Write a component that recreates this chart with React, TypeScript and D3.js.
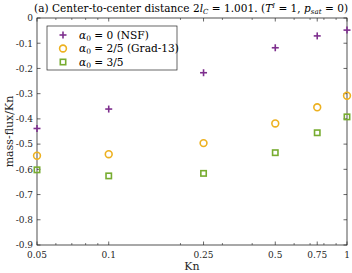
import * as d3 from "d3";

const knValues = [0.05, 0.1, 0.25, 0.5, 0.75, 1];
const nsf = [-0.438, -0.361, -0.217, -0.118, -0.071, -0.048];
const grad13 = [-0.546, -0.54, -0.496, -0.418, -0.354, -0.308];
const alpha35 = [-0.602, -0.626, -0.616, -0.534, -0.455, -0.392];
const xTickLabels = [0.05, 0.1, 0.25, 0.5, 0.75, 1];
const xMinorTicks = [0.06, 0.07, 0.08, 0.09, 0.2, 0.3, 0.4, 0.6, 0.7, 0.8, 0.9];
const yTicks = [0, -0.1, -0.2, -0.3, -0.4, -0.5, -0.6, -0.7, -0.8, -0.9];

const W = 352;
const H = 273;
const m = { left: 37, right: 5, top: 18, bottom: 28 };
const font = "'DejaVu Serif', serif";
const axisColor = "#262626";

const PURPLE = "#7E2F8E";
const ORANGE = "#EDB120";
const GREEN = "#77AC30";

function Plus({ x, y }: { x: number; y: number }) {
  const s = 3.5;
  return (
    <g stroke={PURPLE} strokeWidth={1.6}>
      <line x1={x - s} x2={x + s} y1={y} y2={y} />
      <line x1={x} x2={x} y1={y - s} y2={y + s} />
    </g>
  );
}
function Circ({ x, y }: { x: number; y: number }) {
  return <circle cx={x} cy={y} r={3.4} fill="none" stroke={ORANGE} strokeWidth={1.6} />;
}
function Sq({ x, y }: { x: number; y: number }) {
  const s = 2.7;
  return <rect x={x - s} y={y - s} width={2 * s} height={2 * s} fill="none" stroke={GREEN} strokeWidth={1.6} />;
}

function Alpha({ rest }: { rest: string }) {
  return (
    <>
      <tspan fontStyle="italic">α</tspan>
      <tspan fontSize={7.5} dy={2}>0</tspan>
      <tspan dy={-2}>{rest}</tspan>
    </>
  );
}

export default function App() {
  const x = d3.scaleLog().domain([0.05, 1]).range([m.left, W - m.right]);
  const y = d3.scaleLinear().domain([-0.9, 0]).range([H - m.bottom, m.top]);
  const [x0, x1] = x.range();
  const [yb, yt] = y.range();
  const tl = 3.5;

  const legendItems = [
    { Mark: Plus, text: " = 0 (NSF)" },
    { Mark: Circ, text: " = 2/5 (Grad-13)" },
    { Mark: Sq, text: " = 3/5" },
  ];

  return (
    <svg width={W} height={H} style={{ position: "absolute", left: 0, top: 0, background: "#fff", fontFamily: font }}>
      {/* title */}
      <text x={34} y={12} fontSize={10.5} textLength={314} lengthAdjust="spacing" fill="#000">
        (a) Center-to-center distance 2<tspan fontStyle="italic">l</tspan>
        <tspan fontSize={7} dy={2} fontStyle="italic">C</tspan>
        <tspan dy={-2}> = 1.001.  (</tspan>
        <tspan fontStyle="italic">T</tspan>
        <tspan fontSize={7} dy={-4} fontStyle="italic">I</tspan>
        <tspan dy={4}> = 1, </tspan>
        <tspan fontStyle="italic">p</tspan>
        <tspan fontSize={7} dy={2} fontStyle="italic">sat</tspan>
        <tspan dy={-2}> = 0)</tspan>
      </text>

      {/* box */}
      <rect x={x0} y={yt} width={x1 - x0} height={yb - yt} fill="none" stroke={axisColor} strokeWidth={0.8} />

      {/* x ticks */}
      {xTickLabels.map((t) => (
        <g key={"xt" + t}>
          <line x1={x(t)} x2={x(t)} y1={yb} y2={yb - tl} stroke={axisColor} strokeWidth={0.7} />
          <line x1={x(t)} x2={x(t)} y1={yt} y2={yt + tl} stroke={axisColor} strokeWidth={0.7} />
          <text x={x(t)} y={yb + 13} fontSize={9} textAnchor="middle" fill="#262626">
            {String(t)}
          </text>
        </g>
      ))}
      {xMinorTicks.map((t) => (
        <g key={"xm" + t}>
          <line x1={x(t)} x2={x(t)} y1={yb} y2={yb - 2} stroke={axisColor} strokeWidth={0.6} />
          <line x1={x(t)} x2={x(t)} y1={yt} y2={yt + 2} stroke={axisColor} strokeWidth={0.6} />
        </g>
      ))}

      {/* y ticks */}
      {yTicks.map((t) => (
        <g key={"yt" + t}>
          <line x1={x0} x2={x0 + tl} y1={y(t)} y2={y(t)} stroke={axisColor} strokeWidth={0.7} />
          <line x1={x1} x2={x1 - tl} y1={y(t)} y2={y(t)} stroke={axisColor} strokeWidth={0.7} />
          <text x={x0 - 4} y={y(t) + 3.3} fontSize={9} textAnchor="end" fill="#262626">
            {t === 0 ? "0" : "-" + Math.abs(t).toFixed(1)}
          </text>
        </g>
      ))}

      {/* axis labels */}
      <text x={(x0 + x1) / 2} y={H - 3} fontSize={11} textAnchor="middle" fill="#262626">
        Kn
      </text>
      <text transform={`translate(13,${(yt + yb) / 2}) rotate(-90)`} fontSize={11} textAnchor="middle" fill="#262626">
        mass-flux/Kn
      </text>

      {/* data */}
      {knValues.map((k, i) => (
        <Plus key={"p" + i} x={x(k)} y={y(nsf[i])} />
      ))}
      {knValues.map((k, i) => (
        <Circ key={"c" + i} x={x(k)} y={y(grad13[i])} />
      ))}
      {knValues.map((k, i) => (
        <Sq key={"s" + i} x={x(k)} y={y(alpha35[i])} />
      ))}

      {/* legend */}
      <g>
        <rect x={47} y={26} width={130} height={44} fill="#fff" stroke={axisColor} strokeWidth={0.7} />
        {legendItems.map((it, i) => {
          const ly = 35 + i * 13.5;
          const Mark = it.Mark;
          return (
            <g key={"l" + i}>
              <Mark x={63} y={ly} />
              <text x={79} y={ly + 3.8} fontSize={10.6} fill="#000">
                <Alpha rest={it.text} />
              </text>
            </g>
          );
        })}
      </g>
    </svg>
  );
}
